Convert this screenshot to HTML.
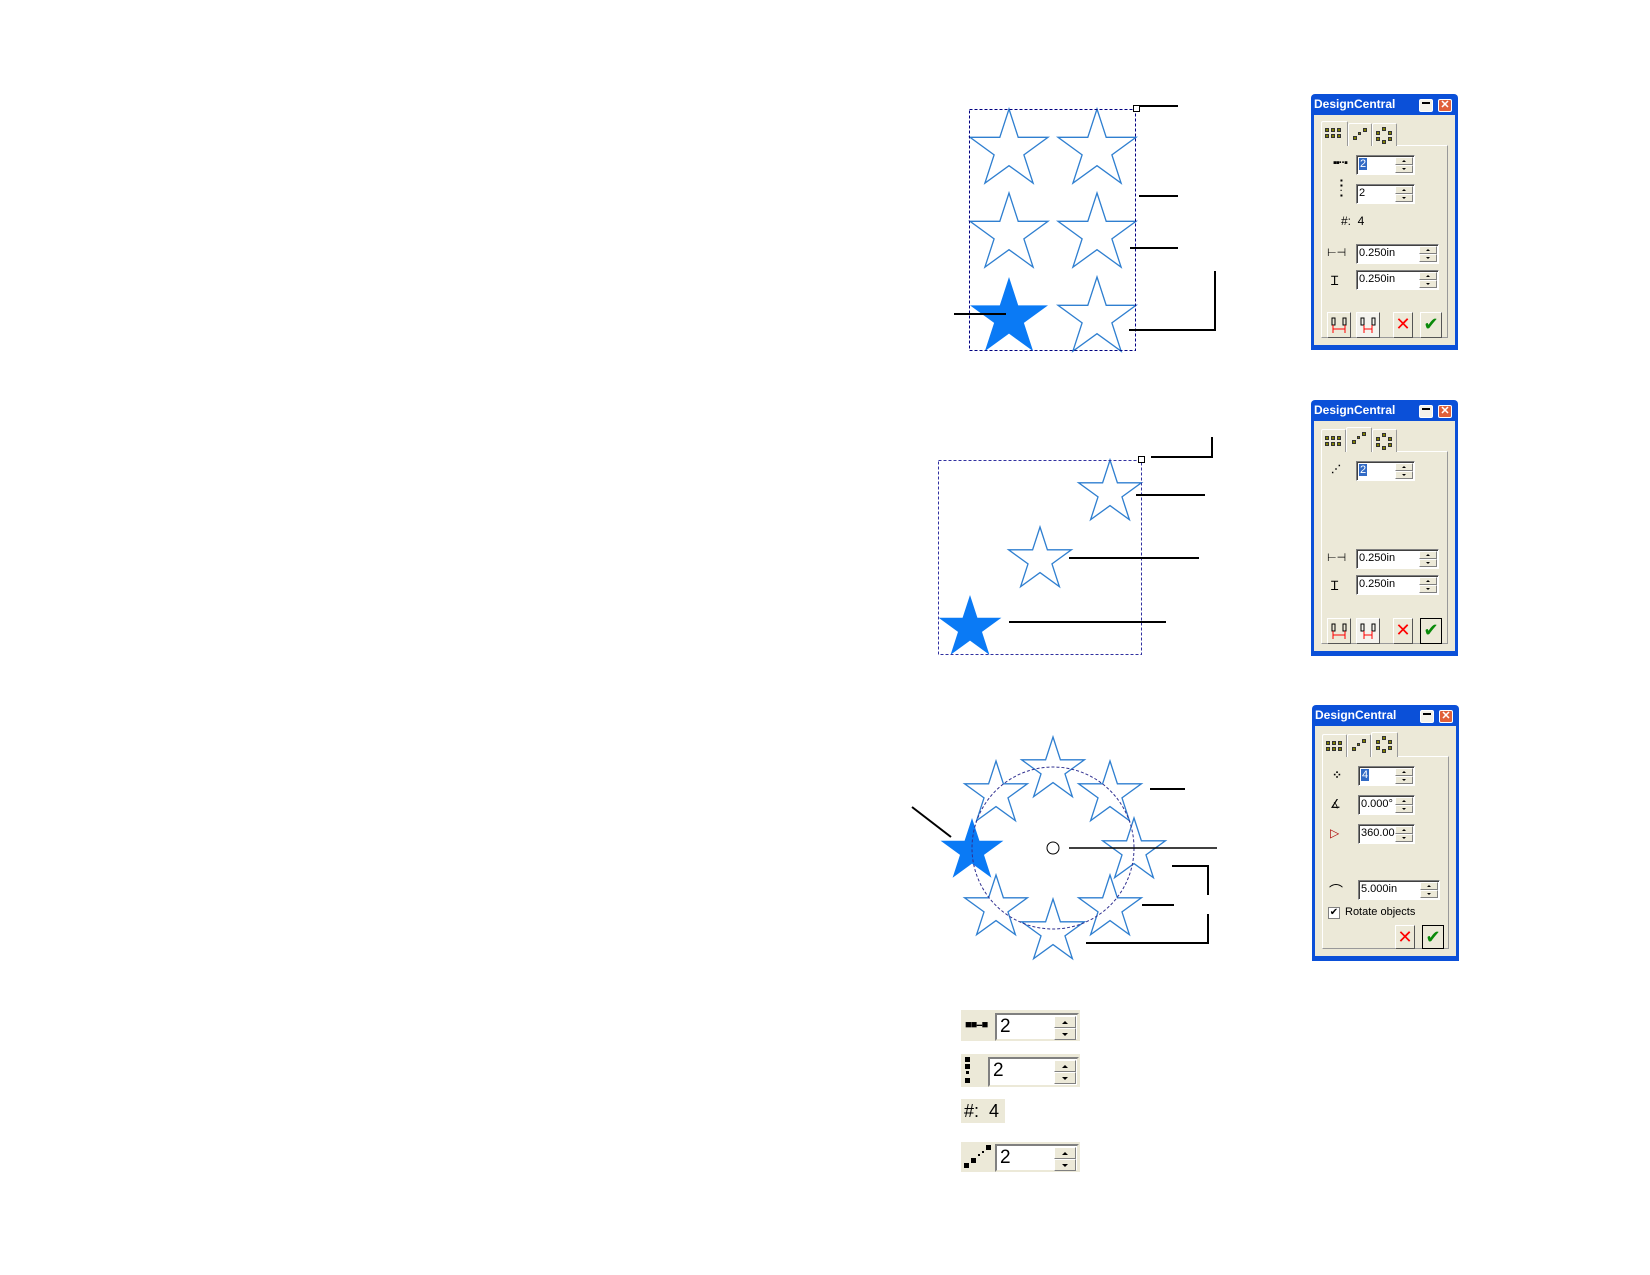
<!DOCTYPE html>
<html><head><meta charset="utf-8">
<style>
*{margin:0;padding:0;box-sizing:border-box}
body{width:1650px;height:1275px;background:#fff;position:relative;overflow:hidden;font-family:"Liberation Sans",sans-serif}
.a{position:absolute}
.dlg{position:absolute;width:147px;height:256px;background:#0b50d8;border-radius:4px 4px 0 0}
.dlg .tt{position:absolute;left:3px;top:3px;color:#fff;font-weight:bold;font-size:12px}
.dlg .body{position:absolute;left:3px;top:21px;width:141px;height:230px;background:#ece9d8}
.mn{position:absolute;left:108px;top:5px;width:14px;height:13px;background:#f4f2ea;border:1px solid #fff;border-radius:2px}
.mn:after{content:"";position:absolute;left:2px;top:2px;width:8px;height:2px;background:#000}
.cl{position:absolute;left:127px;top:5px;width:14px;height:13px;background:#e0603a;border:1px solid #fff;border-radius:2px;color:#fff;font-size:11px;line-height:11px;text-align:center;font-weight:bold}
.panel{position:absolute;left:10px;top:51px;width:127px;height:193px;border:1px solid #fff;border-right-color:#999;border-bottom-color:#999}
.tab{position:absolute;top:29px;height:23px;border:1px solid #fff;border-right-color:#999;border-bottom:none;background:#ece9d8;border-radius:2px 2px 0 0}
.tab.on{top:27px;height:25px;z-index:2}
.sq{position:absolute;width:4px;height:4px;background:#808000;border:1px solid #333}
.fld{position:absolute;height:20px;background:#fff;border:1px solid #808080;border-right-color:#fff;border-bottom-color:#fff;box-shadow:inset 1px 1px 0 #404040;font-size:11px;line-height:17px;padding-left:2px;color:#000}
.sp{position:absolute;right:1px;top:1px;width:18px;height:16px}
.sp i{display:block;height:8px;background:#ece9d8;border:1px solid #fff;border-right-color:#808080;border-bottom-color:#808080;position:relative}
.sp i:after{content:"";position:absolute;left:6px;top:2px;border-left:2px solid transparent;border-right:2px solid transparent}
.sp i.u:after{border-bottom:2px solid #000}
.sp i.d:after{border-top:2px solid #000}
.sel{background:#316ac5;color:#fff;padding:0 1px}
.btn{position:absolute;top:218px;height:26px;background:#ece9d8;border:1px solid #fff;border-right-color:#555;border-bottom-color:#555}
.x{color:#f00;font-size:18px;font-weight:bold;text-align:center;line-height:24px;font-family:"DejaVu Sans",sans-serif}
.ok{color:#0a8a0a;font-size:18px;text-align:center;line-height:24px;font-family:"DejaVu Sans",sans-serif;font-weight:bold}
.ic{position:absolute;font-size:11px;color:#000}
.wd{position:absolute;background:#ece9d8}
.wf{position:absolute;background:#fff;border:2px solid #808080;border-right-color:#ece9d8;border-bottom-color:#ece9d8;font-size:19px;line-height:24px;padding-left:3px}
.ws{position:absolute;right:1px;top:1px;width:22px;height:24px}
.ws i{display:block;height:12px;background:#ece9d8;border:1px solid #fff;border-right-color:#808080;border-bottom-color:#808080;position:relative}
.ws i:after{content:"";position:absolute;left:7px;top:4px;border-left:3px solid transparent;border-right:3px solid transparent}
.ws i.u:after{border-bottom:3px solid #000}
.ws i.d:after{border-top:3px solid #000}
.b{position:absolute;background:#000}
</style></head><body>

<svg class="a" style="left:0;top:0" width="1650" height="1275">
<defs>
<polygon id="st" points="0,-1 0.2245,-0.309 0.9511,-0.309 0.3633,0.118 0.5878,0.809 0,0.382 -0.5878,0.809 -0.3633,0.118 -0.9511,-0.309 -0.2245,-0.309"/>
</defs>
<g fill="none" stroke="#2f7fd0" stroke-width="1.3">
<!-- section1 -->
<use href="#st" transform="translate(1009,150) scale(41)" vector-effect="non-scaling-stroke" style="stroke-width:0.032"/>
<use href="#st" transform="translate(1097,150) scale(41)" style="stroke-width:0.032"/>
<use href="#st" transform="translate(1009,234) scale(41)" style="stroke-width:0.032"/>
<use href="#st" transform="translate(1097,234) scale(41)" style="stroke-width:0.032"/>
<use href="#st" transform="translate(1097,318) scale(41)" style="stroke-width:0.032"/>
<!-- section2 -->
<use href="#st" transform="translate(1110,493) scale(33)" style="stroke-width:0.04"/>
<use href="#st" transform="translate(1040,560) scale(33)" style="stroke-width:0.04"/>
<!-- section3 -->
<use href="#st" transform="translate(996,794) scale(33)" style="stroke-width:0.04"/>
<use href="#st" transform="translate(1053,770) scale(33)" style="stroke-width:0.04"/>
<use href="#st" transform="translate(1110,794) scale(33)" style="stroke-width:0.04"/>
<use href="#st" transform="translate(1134,851) scale(33)" style="stroke-width:0.04"/>
<use href="#st" transform="translate(1110,908) scale(33)" style="stroke-width:0.04"/>
<use href="#st" transform="translate(1053,932) scale(33)" style="stroke-width:0.04"/>
<use href="#st" transform="translate(996,908) scale(33)" style="stroke-width:0.04"/>
</g>
<g fill="#0a7af5" stroke="none">
<use href="#st" transform="translate(1009,318) scale(41)"/>
<use href="#st" transform="translate(970,628) scale(33)"/>
<use href="#st" transform="translate(972,851) scale(33)"/>
</g>
<!-- dashed rects -->
<rect x="969.5" y="109.5" width="166" height="241" fill="none" stroke="#000080" stroke-width="1" stroke-dasharray="3,2"/>
<rect x="1133.5" y="105.5" width="6" height="6" fill="#fff" stroke="#000" stroke-width="1"/>
<rect x="938.5" y="460.5" width="203" height="194" fill="none" stroke="#3030a0" stroke-width="1" stroke-dasharray="3,2"/>
<rect x="1138.5" y="456.5" width="6" height="6" fill="#fff" stroke="#000" stroke-width="1"/>
<circle cx="1053" cy="848" r="81" fill="none" stroke="#303090" stroke-width="1" stroke-dasharray="3,2"/>
<circle cx="1053" cy="848" r="6" fill="none" stroke="#000" stroke-width="1"/>
<!-- leader lines -->
<g stroke="#000" stroke-width="2" fill="none">
<line x1="1139" y1="106" x2="1178" y2="106"/>
<line x1="1139" y1="196" x2="1178" y2="196"/>
<line x1="1130" y1="248" x2="1178" y2="248"/>
<polyline points="1129,330 1215,330 1215,271"/>
<line x1="954" y1="314" x2="1006" y2="314"/>
<polyline points="1151,457 1212,457 1212,437"/>
<line x1="1136" y1="495" x2="1205" y2="495"/>
<line x1="1069" y1="558" x2="1199" y2="558"/>
<line x1="1009" y1="622" x2="1166" y2="622"/>
<line x1="912" y1="807" x2="951" y2="837"/>
<line x1="1150" y1="789" x2="1185" y2="789" />
<line x1="1069" y1="848" x2="1217" y2="848" stroke-width="1.5"/>
<polyline points="1172,866 1208,866 1208,895"/>
<line x1="1142" y1="905" x2="1174" y2="905"/>
<polyline points="1208,914 1208,943 1086,943"/>
</g>
</svg>

<!-- Dialog 1 -->
<div class="dlg" style="left:1311px;top:94px">
 <div class="tt">DesignCentral</div><div class="mn"></div><div class="cl">✕</div>
 <div class="body" style="left:3px;top:21px"></div>
 <div class="panel"></div>
 <div class="tab on" style="left:10px;width:27px"><span class="sq" style="left:3px;top:6px"></span><span class="sq" style="left:9px;top:6px"></span><span class="sq" style="left:15px;top:6px"></span><span class="sq" style="left:3px;top:12px"></span><span class="sq" style="left:9px;top:12px"></span><span class="sq" style="left:15px;top:12px"></span></div>
 <div class="tab" style="left:37px;width:24px"><span class="sq" style="left:4px;top:12px"></span><span class="sq" style="left:14px;top:4px"></span><span class="sq" style="left:9px;top:8px;width:3px;height:3px"></span></div>
 <div class="tab" style="left:61px;width:25px"><span class="sq" style="left:9px;top:3px"></span><span class="sq" style="left:3px;top:7px"></span><span class="sq" style="left:15px;top:7px"></span><span class="sq" style="left:3px;top:13px"></span><span class="sq" style="left:15px;top:13px"></span><span class="sq" style="left:9px;top:16px"></span></div>
 <div class="ic" style="left:22px;top:63px;font-weight:bold;letter-spacing:-1px">▪▪··▪</div>
 <div class="fld" style="left:45px;top:61px;width:59px"><span class="sel">2</span><div class="sp"><i class="u"></i><i class="d"></i></div></div>
 <div class="ic" style="left:29px;top:84px;font-size:8px;line-height:5px;font-weight:bold">▪<br>▪<br>·<br>▪</div>
 <div class="fld" style="left:45px;top:90px;width:59px">2<div class="sp"><i class="u"></i><i class="d"></i></div></div>
 <div class="ic" style="left:30px;top:120px;font-size:12px">#:&nbsp; 4</div>
 <div class="ic" style="left:16px;top:152px">⊢⊣</div>
 <div class="fld" style="left:45px;top:150px;width:83px">0.250in<div class="sp"><i class="u"></i><i class="d"></i></div></div>
 <div class="ic" style="left:20px;top:177px;font-size:13px">Ɪ</div>
 <div class="fld" style="left:45px;top:176px;width:83px">0.250in<div class="sp"><i class="u"></i><i class="d"></i></div></div>
 <div class="btn" style="left:16px;width:24px"><svg width="22" height="24"><rect x="4" y="5" width="3" height="7" fill="none" stroke="#000"/><rect x="15" y="5" width="3" height="7" fill="none" stroke="#000"/><path d="M5 12v8M17 12v8M5 16h12" stroke="#f00" fill="none"/></svg></div>
 <div class="btn" style="left:45px;width:24px;background:#f4f3ee"><svg width="22" height="24"><rect x="4" y="5" width="3" height="7" fill="none" stroke="#000"/><rect x="15" y="5" width="3" height="7" fill="none" stroke="#000"/><path d="M7 12v8M15 12v8M7 16h8" stroke="#f00" fill="none"/></svg></div>
 <div class="btn x" style="left:82px;width:20px">✕</div>
 <div class="btn ok" style="left:109px;width:22px">✔</div>
</div>

<!-- Dialog 2 -->
<div class="dlg" style="left:1311px;top:400px">
 <div class="tt">DesignCentral</div><div class="mn"></div><div class="cl">✕</div>
 <div class="body"></div>
 <div class="panel"></div>
 <div class="tab" style="left:10px;width:25px"><span class="sq" style="left:3px;top:6px"></span><span class="sq" style="left:9px;top:6px"></span><span class="sq" style="left:15px;top:6px"></span><span class="sq" style="left:3px;top:12px"></span><span class="sq" style="left:9px;top:12px"></span><span class="sq" style="left:15px;top:12px"></span></div>
 <div class="tab on" style="left:35px;width:26px"><span class="sq" style="left:5px;top:12px"></span><span class="sq" style="left:15px;top:4px"></span><span class="sq" style="left:10px;top:8px;width:3px;height:3px"></span></div>
 <div class="tab" style="left:61px;width:25px"><span class="sq" style="left:9px;top:3px"></span><span class="sq" style="left:3px;top:7px"></span><span class="sq" style="left:15px;top:7px"></span><span class="sq" style="left:3px;top:13px"></span><span class="sq" style="left:15px;top:13px"></span><span class="sq" style="left:9px;top:16px"></span></div>
 <div class="ic" style="left:20px;top:64px;font-size:10px;font-weight:bold">⋰</div>
 <div class="fld" style="left:45px;top:61px;width:59px"><span class="sel">2</span><div class="sp"><i class="u"></i><i class="d"></i></div></div>
 <div class="ic" style="left:16px;top:151px">⊢⊣</div>
 <div class="fld" style="left:45px;top:149px;width:83px">0.250in<div class="sp"><i class="u"></i><i class="d"></i></div></div>
 <div class="ic" style="left:20px;top:176px;font-size:13px">Ɪ</div>
 <div class="fld" style="left:45px;top:175px;width:83px">0.250in<div class="sp"><i class="u"></i><i class="d"></i></div></div>
 <div class="btn" style="left:16px;width:24px"><svg width="22" height="24"><rect x="4" y="5" width="3" height="7" fill="none" stroke="#000"/><rect x="15" y="5" width="3" height="7" fill="none" stroke="#000"/><path d="M5 12v8M17 12v8M5 16h12" stroke="#f00" fill="none"/></svg></div>
 <div class="btn" style="left:45px;width:24px;background:#f4f3ee"><svg width="22" height="24"><rect x="4" y="5" width="3" height="7" fill="none" stroke="#000"/><rect x="15" y="5" width="3" height="7" fill="none" stroke="#000"/><path d="M7 12v8M15 12v8M7 16h8" stroke="#f00" fill="none"/></svg></div>
 <div class="btn x" style="left:82px;width:20px">✕</div>
 <div class="btn ok" style="left:109px;width:22px;border:1px solid #000">✔</div>
</div>

<!-- Dialog 3 -->
<div class="dlg" style="left:1312px;top:705px">
 <div class="tt">DesignCentral</div><div class="mn"></div><div class="cl">✕</div>
 <div class="body"></div>
 <div class="panel"></div>
 <div class="tab" style="left:10px;width:25px"><span class="sq" style="left:3px;top:6px"></span><span class="sq" style="left:9px;top:6px"></span><span class="sq" style="left:15px;top:6px"></span><span class="sq" style="left:3px;top:12px"></span><span class="sq" style="left:9px;top:12px"></span><span class="sq" style="left:15px;top:12px"></span></div>
 <div class="tab" style="left:35px;width:24px"><span class="sq" style="left:4px;top:12px"></span><span class="sq" style="left:14px;top:4px"></span><span class="sq" style="left:9px;top:8px;width:3px;height:3px"></span></div>
 <div class="tab on" style="left:59px;width:27px"><span class="sq" style="left:10px;top:3px"></span><span class="sq" style="left:4px;top:7px"></span><span class="sq" style="left:16px;top:7px"></span><span class="sq" style="left:4px;top:13px"></span><span class="sq" style="left:16px;top:13px"></span><span class="sq" style="left:10px;top:16px"></span></div>
 <div class="ic" style="left:20px;top:63px;font-size:12px;font-weight:bold">⁘</div>
 <div class="fld" style="left:46px;top:61px;width:57px"><span class="sel">4</span><div class="sp"><i class="u"></i><i class="d"></i></div></div>
 <div class="ic" style="left:18px;top:92px;font-size:12px">∡</div>
 <div class="fld" style="left:46px;top:90px;width:57px">0.000°<div class="sp"><i class="u"></i><i class="d"></i></div></div>
 <div class="ic" style="left:18px;top:121px;font-size:12px;color:#a00">▷</div>
 <div class="fld" style="left:46px;top:119px;width:57px;overflow:hidden">360.000<div class="sp"><i class="u"></i><i class="d"></i></div></div>
 <div class="ic" style="left:17px;top:176px;font-size:14px">⌒</div>
 <div class="fld" style="left:46px;top:175px;width:82px">5.000in<div class="sp"><i class="u"></i><i class="d"></i></div></div>
 <div class="a" style="left:16px;top:202px;width:12px;height:12px;background:#fff;border:1px solid #808080;font-size:10px;line-height:10px;text-align:center">✔</div>
 <div class="ic" style="left:33px;top:201px">Rotate objects</div>
 <div class="btn x" style="left:83px;top:220px;width:20px;height:24px">✕</div>
 <div class="btn ok" style="left:110px;top:220px;width:22px;height:24px;border:1px solid #000">✔</div>
</div>

<!-- Bottom widgets -->
<div class="wd" style="left:961px;top:1010px;width:119px;height:31px">
 <div class="ic" style="left:4px;top:9px;font-size:11px;font-weight:bold;letter-spacing:-1px">■■--■</div>
 <div class="wf" style="left:34px;top:3px;width:84px;height:28px">2<div class="ws"><i class="u"></i><i class="d"></i></div></div>
</div>
<div class="wd" style="left:961px;top:1054px;width:119px;height:33px">
 <div class="a" style="left:4px;top:3px;width:5px;height:5px;background:#000"></div>
 <div class="a" style="left:4px;top:10px;width:5px;height:5px;background:#000"></div>
 <div class="a" style="left:5px;top:17px;width:3px;height:3px;background:#000"></div>
 <div class="a" style="left:4px;top:24px;width:5px;height:5px;background:#000"></div>
 <div class="wf" style="left:27px;top:3px;width:91px;height:30px">2<div class="ws"><i class="u"></i><i class="d"></i></div></div>
</div>
<div class="wd" style="left:961px;top:1099px;width:44px;height:24px;font-size:18px;line-height:24px;padding-left:3px">#:&nbsp; 4</div>
<div class="wd" style="left:961px;top:1142px;width:119px;height:30px">
 <div class="a" style="left:3px;top:21px;width:5px;height:5px;background:#000"></div>
 <div class="a" style="left:10px;top:16px;width:5px;height:5px;background:#000"></div>
 <div class="a" style="left:17px;top:12px;width:2px;height:2px;background:#000"></div>
 <div class="a" style="left:21px;top:9px;width:2px;height:2px;background:#000"></div>
 <div class="a" style="left:25px;top:3px;width:5px;height:5px;background:#000"></div>
 <div class="wf" style="left:34px;top:2px;width:84px;height:28px">2<div class="ws"><i class="u"></i><i class="d"></i></div></div>
</div>

</body></html>
